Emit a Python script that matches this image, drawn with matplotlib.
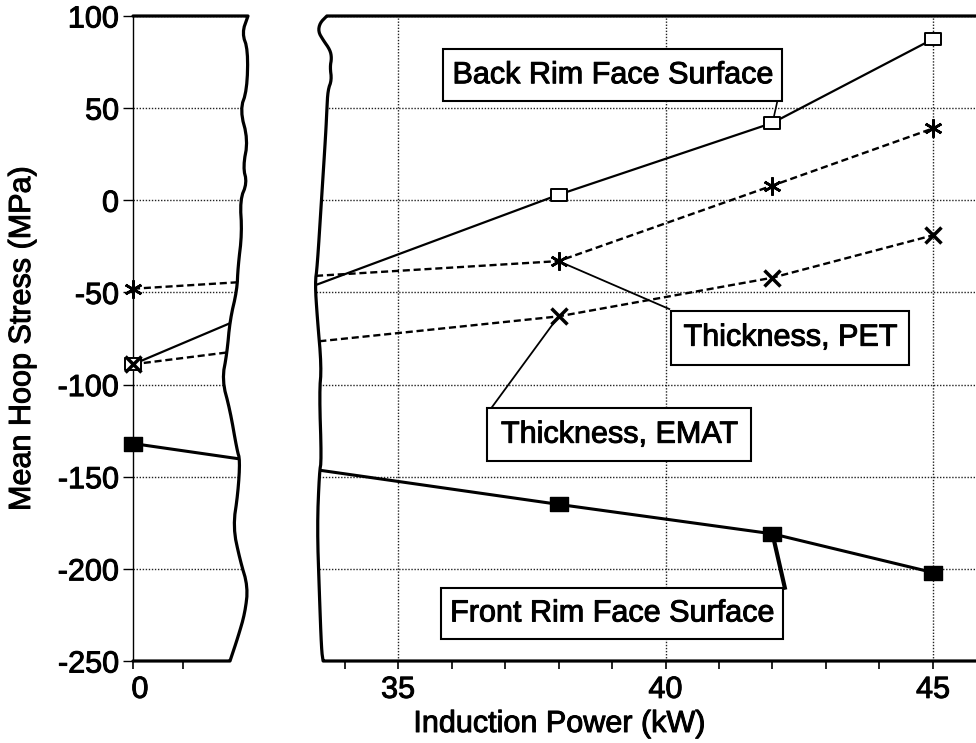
import numpy as np
import matplotlib
matplotlib.use("Agg")
import matplotlib.pyplot as plt
import matplotlib.patheffects as pe
from matplotlib.patches import Polygon, Rectangle
from matplotlib.path import Path
from matplotlib.transforms import ScaledTranslation

plt.rcParams['font.family'] = ['Liberation Sans', 'DejaVu Sans']
plt.rcParams['axes.unicode_minus'] = False

# ---------------- data ----------------
power_kw = [0, 38, 42, 45]
back_rim = [-89, 3, 42, 87.5]
thick_pet = [-48, -33, 8, 39]
thick_emat = [-89, -63, -42, -19]
front_rim = [-132, -165, -181, -202]
# where each curve meets the axis break (leaving left panel / entering right panel)
break_exit = [-66.7, -44.5, -82.6, -140.3]
break_entry = [-46, -41, -76.5, -146.5]
series_names = ["Back Rim Face Surface", "Thickness, PET",
                "Thickness, EMAT", "Front Rim Face Surface"]
y_ticks = [-250, -200, -150, -100, -50, 0, 50, 100]
x_ticks_left = [0]
x_ticks_right = [35, 40, 45]
y_label = "Mean Hoop Stress (MPa)"
x_label = "Induction Power (kW)"

# ---------------- decoration / layout ----------------
left_wave_x = [2.30, 2.18, 2.30, 2.28, 2.14, 2.30, 2.20, 2.28, 2.14, 2.18, 2.10, 2.08,
               1.94, 1.88, 1.78, 1.94, 2.08, 2.14, 2.10, 2.00, 2.14, 2.30, 2.24, 2.10, 1.94]
left_wave_y = [100, 90.8, 81.6, 59.8, 49.0, 32.7, 18.1, 9.4, 0.2, -17.7, -36.2, -48.7,
               -65.0, -82.9, -97.5, -113.8, -135.5, -140.9, -158.8, -177.3, -195.2,
               -209.8, -223.9, -237.0, -250]
right_wave_x = [33.67, 33.54, 33.51, 33.60, 33.73, 33.76, 33.73, 33.76, 33.69, 33.67,
                33.65, 33.57, 33.49, 33.45, 33.49, 33.57, 33.53, 33.57, 33.53, 33.49,
                33.53, 33.57, 33.60]
right_wave_y = [100, 96.2, 91.5, 87.0, 81.6, 77.2, 72.3, 65.3, 59.8, 49.0, 36.5, 0.2,
                -36.2, -44.9, -63.3, -90.4, -104.6, -140.9, -147.9, -177.3, -213.1,
                -244.0, -250]

label_boxes = {  # x0, x1, y0, y1 in data units of the right panel
    "Back Rim Face Surface": (35.85, 42.17, 53.7, 82.0),
    "Thickness, PET": (40.1, 44.56, -89.2, -59.9),
    "Thickness, EMAT": (36.67, 41.6, -141.5, -112.9),
    "Front Rim Face Surface": (35.8, 42.2, -238.2, -210.2),
}
leader_ends = {  # series index, point index, end point on box, width
    "Back Rim Face Surface": (0, 2, (42.09, 53.7), 1.2),
    "Thickness, PET": (1, 1, (40.07, -59.0), 1.3),
    "Thickness, EMAT": (2, 1, (36.74, -112.9), 1.3),
    "Front Rim Face Surface": (3, 2, (42.23, -210.2), 3.0),
}


def chaikin(xs, ys, n=2):
    pts = np.column_stack([xs, ys]).astype(float)
    for _ in range(n):
        q = 0.75 * pts[:-1] + 0.25 * pts[1:]
        r = 0.25 * pts[:-1] + 0.75 * pts[1:]
        mid = np.empty((2 * len(q), 2))
        mid[0::2] = q
        mid[1::2] = r
        pts = np.vstack([pts[:1], mid, pts[-1:]])
    return pts[:, 0], pts[:, 1]


lwx, lwy = chaikin(left_wave_x, left_wave_y)
rwx, rwy = chaikin(right_wave_x, right_wave_y)

series = [back_rim, thick_pet, thick_emat, front_rim]
dash = (0, (3.0, 1.6))
styles = [
    dict(ls='-', lw=1.6, color='black'),
    dict(ls=dash, lw=1.7, color='black'),
    dict(ls=dash, lw=1.7, color='black'),
    dict(ls='-', lw=2.2, color='black'),
]
rect_marker = Path([(-1, -0.75), (1, -0.75), (1, 0.75), (-1, 0.75), (-1, -0.75)],
                   [Path.MOVETO, Path.LINETO, Path.LINETO, Path.LINETO, Path.CLOSEPOLY])
markers = [
    dict(marker=rect_marker, ms=12, mfc='white', mec='black', mew=1.4),
    dict(marker=(6, 2, 0), ms=13, mfc='black', mec='black', mew=1.9),
    dict(marker='x', ms=11, mfc='black', mec='black', mew=2.5),
    dict(marker=rect_marker, ms=12.5, mfc='black', mec='black', mew=1.0),
]

W, H = 976, 743
fig = plt.figure(figsize=(W / 100, H / 100), dpi=100)
ybot, ytop = 661, 16
ax_l = fig.add_axes([133 / W, (H - ybot) / H, 130 / W, (ybot - ytop) / H])
ax_r = fig.add_axes([307.05 / W, (H - ybot) / H, 690.15 / W, (ybot - ytop) / H])

grid_kw = dict(color='#222222', lw=1.0, ls=(0, (1, 1.2)))
FS = 22
heavy = [pe.withStroke(linewidth=0.7, foreground='black')]

# ---------- left panel ----------
ax_l.set_xlim(0, 2.6)
ax_l.set_ylim(-250, 100)
for s in ['top', 'right', 'bottom']:
    ax_l.spines[s].set_visible(False)
ax_l.spines['left'].set_linewidth(1.0)
ax_l.set_yticks(y_ticks)
ax_l.set_yticklabels([str(v) for v in y_ticks])
ax_l.set_xticks(x_ticks_left)
ax_l.set_xticklabels([str(v) for v in x_ticks_left])
ax_l.set_xticks([1], minor=True)
ax_l.tick_params(axis='y', direction='out', length=7, width=1.0, labelsize=FS, pad=3)
ax_l.tick_params(axis='x', which='both', direction='out', length=6, width=1.2,
                 labelsize=FS, pad=4)
ax_l.yaxis.grid(True, **grid_kw)
ax_l.set_axisbelow(True)
for lab in ax_l.get_xticklabels():
    lab.set_transform(lab.get_transform() + ScaledTranslation(7 / 100, 0, fig.dpi_scale_trans))

for i, ser in enumerate(series):
    xe = np.interp(break_exit[i], lwy[::-1], lwx[::-1])
    ax_l.plot([power_kw[0], xe], [ser[0], break_exit[i]], zorder=2, **styles[i])
for i, ser in enumerate(series):
    ax_l.plot([power_kw[0]], [ser[0]], ls='none', zorder=6, clip_on=False, **markers[i])

cover_l = Polygon(list(zip(lwx, lwy)) + [(3, -255), (3, 105)],
                  closed=True, fc='white', ec='none', zorder=3)
ax_l.add_patch(cover_l)
ax_l.plot(np.r_[0, lwx, 0], np.r_[100, lwy, -250], color='black', lw=2.3,
          solid_joinstyle='round', solid_capstyle='round', zorder=4, clip_on=False)

# ---------- right panel ----------
ax_r.set_xlim(33.3, 46.2)
ax_r.set_ylim(-250, 100)
for s in ax_r.spines.values():
    s.set_visible(False)
ax_r.set_yticks(y_ticks)
ax_r.tick_params(axis='y', left=False, labelleft=False)
ax_r.set_xticks(x_ticks_right)
ax_r.set_xticklabels([str(v) for v in x_ticks_right])
ax_r.set_xticks(list(range(34, 47)), minor=True)
ax_r.tick_params(axis='x', which='both', direction='out', length=6, width=1.2,
                 labelsize=FS, pad=4)
ax_r.grid(True, which='major', **grid_kw)
ax_r.set_axisbelow(True)

for i, ser in enumerate(series):
    xs = np.interp(break_entry[i], rwy[::-1], rwx[::-1])
    ax_r.plot([xs] + power_kw[1:], [break_entry[i]] + ser[1:], zorder=2, **styles[i])

cover_r = Polygon(list(zip(rwx, rwy)) + [(33.0, -255), (33.0, 105)],
                  closed=True, fc='white', ec='none', zorder=3)
ax_r.add_patch(cover_r)
ax_r.plot(np.r_[46.2, rwx, 46.2], np.r_[100, rwy, -250], color='black', lw=2.3,
          solid_joinstyle='round', solid_capstyle='round', zorder=4, clip_on=False)

# leaders and labels
for name in series_names:
    si, pi, end, lw = leader_ends[name]
    ax_r.plot([power_kw[pi], end[0]], [series[si][pi], end[1]], color='black', lw=lw,
              zorder=5)
    x0, x1, y0, y1 = label_boxes[name]
    ax_r.add_patch(Rectangle((x0, y0), x1 - x0, y1 - y0, fc='white', ec='black',
                             lw=1.5, zorder=5.5))
    ax_r.text((x0 + x1) / 2, (y0 + y1) / 2, name, ha='center', va='center',
              fontsize=FS, zorder=6, path_effects=heavy)

for i, ser in enumerate(series):
    ax_r.plot(power_kw[1:], ser[1:], ls='none', zorder=7, clip_on=False, **markers[i])

for lab in ax_l.get_yticklabels() + ax_l.get_xticklabels() + ax_r.get_xticklabels():
    lab.set_path_effects(heavy)

fig.text(22 / W, 1 - 339 / H, y_label, rotation=90, ha='center', va='center',
         fontsize=FS, path_effects=heavy)
fig.text(559 / W, 1 - 724 / H, x_label, ha='center', va='center', fontsize=FS,
         path_effects=heavy)

fig.savefig("out.png", dpi=100)
